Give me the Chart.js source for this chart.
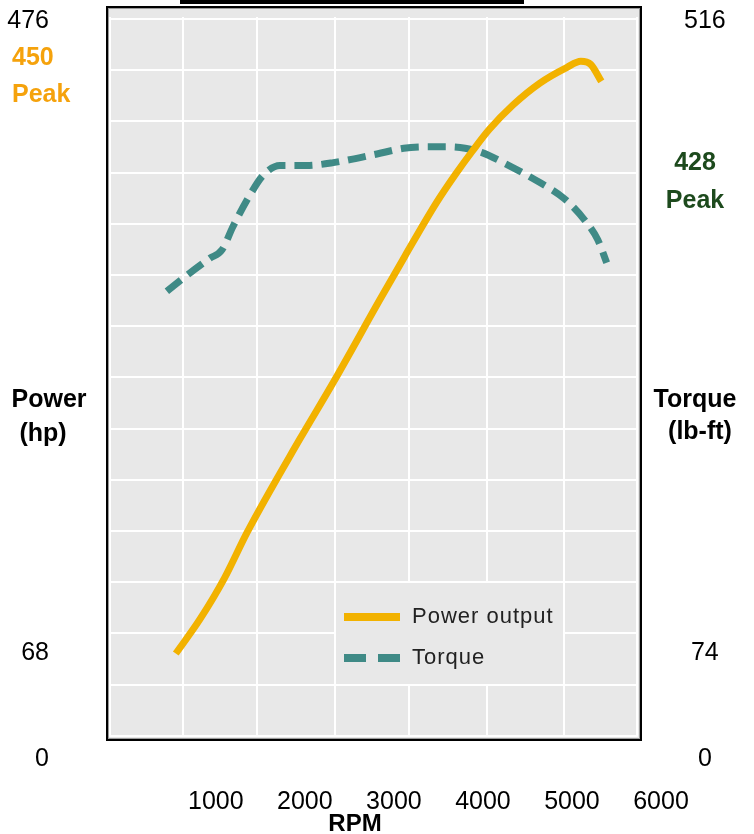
<!DOCTYPE html>
<html>
<head>
<meta charset="utf-8">
<script src="https://cdn.jsdelivr.net/npm/chart.js@4.4.1/dist/chart.umd.min.js"></script>
<style>
  html, body { margin: 0; padding: 0; background: #fff; }
  #wrap { width: 754px; height: 834px; }
</style>
</head>
<body>
<div id="wrap"><canvas id="chart" width="754" height="834"></canvas></div>
<script>
// Données
const rpmTicks = [1000, 2000, 3000, 4000, 5000, 6000];
const powerTicks = [0, 68, 476];
const torqueTicks = [0, 74, 516];

const powerRpm = [550, 820, 1100, 1350, 1940, 2320, 2840, 3120, 3480, 3690, 3880, 4070, 4340, 4640, 4940, 5100, 5210, 5330];
const powerHp  = [68, 90, 117, 146, 206, 243, 296, 324, 359, 377, 392, 406, 422, 436, 446, 450, 448, 437];

const torqueRpm  = [450, 670, 930, 1070, 1190, 1380, 1530, 1720, 2020, 2320, 2810, 3110, 3420, 3600, 3800, 3990, 4260, 4640, 4910, 5140, 5290, 5390];
const torqueLbFt = [327, 338, 350, 356, 372, 394, 408, 415, 415, 417, 423, 427, 428, 428, 427, 424, 416, 403, 392, 377, 363, 347];

const powerPeak = 450;
const torquePeak = 428;

// Couleurs
const ORANGE = '#f2b200';
const TEAL = '#3f8a86';
const ORANGE_TEXT = '#f5a20c';
const GREEN_TEXT = '#1d4a1d';

// Mise en page du cadre (pixels)
const frame = { left: 107, top: 7, right: 641, bottom: 740 };
const gridX = [110, 183, 257, 335, 409, 487, 564, 637];
const gridTop = 19, gridStep = 51.2, gridCount = 15;
const legendBox = { left: 336, top: 583, right: 563, bottom: 684 };

function toPoints(xs, ys) {
    return xs.map((x, i) => ({ x: x, y: ys[i] }));
}

// pas de marge automatique autour des axes : la mise en page est fixée à la main
function fixScale(size) {
    return s => {
        if (s.isHorizontal()) s.height = size; else s.width = size;
        s.paddingTop = 0;
        s.paddingBottom = 0;
        s.paddingLeft = 0;
        s.paddingRight = 0;
    };
}

const decorPlugin = {
    id: 'decor',
    beforeDraw(chart) {
        const ctx = chart.ctx;
        ctx.save();
        ctx.fillStyle = '#ffffff';
        ctx.fillRect(0, 0, chart.width, chart.height);

        // barre noire en haut (titre coupé)
        ctx.fillStyle = '#000';
        ctx.fillRect(180, 0, 344, 4);

        // fond du graphique
        ctx.fillStyle = '#e8e8e8';
        ctx.fillRect(frame.left, frame.top, frame.right - frame.left, frame.bottom - frame.top);

        // grille blanche
        ctx.strokeStyle = '#ffffff';
        ctx.lineWidth = 2;
        const gridBottom = gridTop + gridStep * (gridCount - 1);
        ctx.beginPath();
        for (let i = 0; i < gridCount; i++) {
            const y = Math.round(gridTop + i * gridStep);
            ctx.moveTo(gridX[0], y);
            ctx.lineTo(gridX[gridX.length - 1], y);
        }
        gridX.forEach(x => {
            ctx.moveTo(x, gridTop - 2);
            ctx.lineTo(x, gridBottom + 1);
        });
        ctx.stroke();

        // cadre
        ctx.strokeStyle = '#000';
        ctx.lineWidth = 2;
        ctx.strokeRect(frame.left, frame.top, frame.right - frame.left, frame.bottom - frame.top);
        ctx.strokeStyle = '#9a9a9a';
        ctx.lineWidth = 1;
        ctx.strokeRect(frame.left + 1.5, frame.top + 1.5, frame.right - frame.left - 3, frame.bottom - frame.top - 3);
        ctx.restore();
    },
    afterDraw(chart) {
        const ctx = chart.ctx;
        ctx.save();

        // légende
        ctx.fillStyle = '#e8e8e8';
        ctx.fillRect(legendBox.left, legendBox.top, legendBox.right - legendBox.left, legendBox.bottom - legendBox.top);
        const legendY = [617, 658];
        chart.data.datasets.forEach((ds, i) => {
            const y = legendY[i];
            ctx.strokeStyle = ds.borderColor;
            ctx.lineWidth = 8;
            ctx.lineCap = 'butt';
            ctx.setLineDash(ds.borderDash ? [22, 12] : []);
            ctx.beginPath();
            ctx.moveTo(344, y);
            ctx.lineTo(400, y);
            ctx.stroke();
            ctx.setLineDash([]);
            ctx.fillStyle = '#222';
            ctx.font = '22px "Liberation Sans", Arial, sans-serif';
            ctx.letterSpacing = '1px';
            ctx.textAlign = 'left';
            ctx.textBaseline = 'middle';
            ctx.fillText(ds.label, 412, y);
            ctx.letterSpacing = '0px';
        });

        // annotations
        ctx.font = 'bold 25px "Liberation Sans", Arial, sans-serif';
        ctx.textBaseline = 'middle';
        ctx.textAlign = 'left';
        ctx.fillStyle = ORANGE_TEXT;
        ctx.fillText(String(powerPeak), 12, 58);
        ctx.fillText('Peak', 12, 95);

        ctx.textAlign = 'center';
        ctx.fillStyle = GREEN_TEXT;
        ctx.fillText(String(torquePeak), 695, 163);
        ctx.fillText('Peak', 695, 201);

        ctx.fillStyle = '#000';
        ctx.fillText('Power', 49, 400);
        ctx.fillText('(hp)', 43, 434);
        ctx.fillText('Torque', 695, 400);
        ctx.fillText('(lb-ft)', 700, 432);

        ctx.font = 'bold 24px "Liberation Sans", Arial, sans-serif';
        ctx.fillText('RPM', 355, 824);
        ctx.restore();
    }
};

const tickFont = { family: '"Liberation Sans", Arial, sans-serif', size: 25 };

const chart = new Chart(document.getElementById('chart'), {
    type: 'line',
    data: {
        datasets: [
            {
                label: 'Power output',
                data: toPoints(powerRpm, powerHp),
                borderColor: ORANGE,
                borderWidth: 7,
                pointRadius: 0,
                cubicInterpolationMode: 'monotone',
                yAxisID: 'y',
                clip: false
            },
            {
                label: 'Torque',
                data: toPoints(torqueRpm, torqueLbFt),
                borderColor: TEAL,
                borderWidth: 7,
                borderDash: [18, 9],
                pointRadius: 0,
                cubicInterpolationMode: 'monotone',
                yAxisID: 'y1',
                clip: false
            }
        ]
    },
    options: {
        responsive: false,
        animation: false,
        devicePixelRatio: 1,
        layout: { padding: { top: 21, left: 0, right: 0, bottom: 0 } },
        plugins: {
            legend: { display: false },
            tooltip: { enabled: false }
        },
        scales: {
            x: {
                type: 'linear',
                min: -200,
                max: 6000,
                grid: { display: false },
                border: { display: false },
                afterBuildTicks: s => { s.ticks = rpmTicks.map(v => ({ value: v })); },
                afterFit: fixScale(75),
                ticks: {
                    autoSkip: false,
                    maxRotation: 0,
                    padding: 20,
                    color: '#000',
                    font: tickFont,
                    callback: v => String(v)
                }
            },
            y: {
                position: 'left',
                min: 0,
                max: 476,
                grid: { display: false },
                border: { display: false },
                afterBuildTicks: s => { s.ticks = powerTicks.map(v => ({ value: v })); },
                afterFit: fixScale(109),
                ticks: {
                    padding: 52,
                    color: '#000',
                    font: tickFont,
                    callback: v => String(v)
                }
            },
            y1: {
                position: 'right',
                min: 0,
                max: 516,
                grid: { display: false },
                border: { display: false },
                afterBuildTicks: s => { s.ticks = torqueTicks.map(v => ({ value: v })); },
                afterFit: fixScale(93),
                ticks: {
                    padding: 15,
                    crossAlign: 'center',
                    color: '#000',
                    font: tickFont,
                    callback: v => String(v)
                }
            }
        }
    },
    plugins: [decorPlugin]
});
</script>
</body>
</html>
